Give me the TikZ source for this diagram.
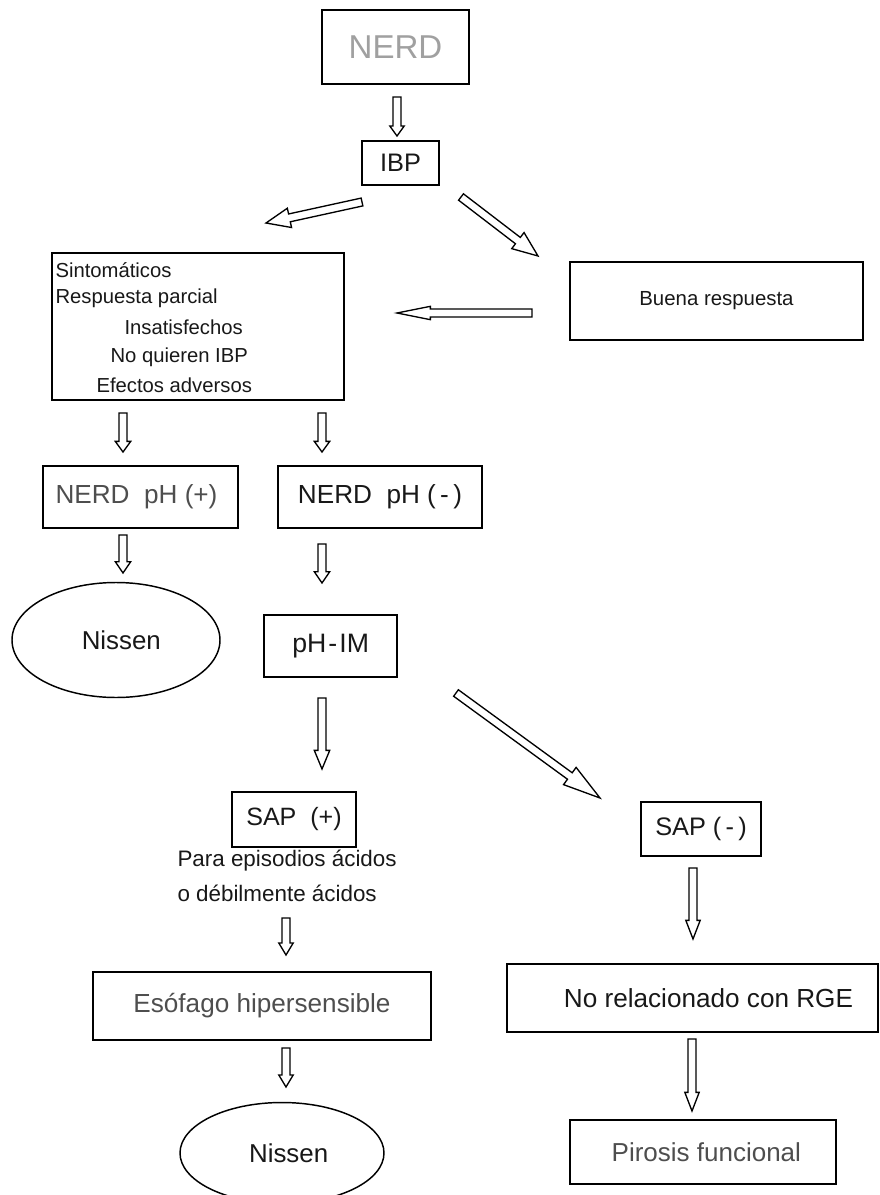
\documentclass[tikz,border=0pt]{standalone}
\usepackage{fontspec}
\setmainfont{Liberation Sans}
\usetikzlibrary{calc,shapes.geometric}

\definecolor{nerdgray}{RGB}{160,160,160}
\definecolor{midgray}{RGB}{78,78,78}
\definecolor{inkgray}{RGB}{24,24,24}

\newcommand{\sz}[1]{\fontsize{#1}{#1}\selectfont}

\tikzset{every picture/.style={line width=0.75pt}}
\tikzset{
	box/.style={draw, rectangle, line width=1.4pt, inner sep=0pt, text=inkgray},
	oval/.style={draw, ellipse, line width=1.1pt, inner sep=0pt, text=inkgray},
	item/.style={anchor=west, inner sep=0pt, text=inkgray, font=\sz{15.2pt}},
	% hollow block arrow: #1 = half width of the head, #2 = length of the head
	hollow/.style 2 args={draw, line width=1pt, line join=miter, to path={
		($(\tikztostart)!3pt!90:(\tikztotarget)$)
		-- ($(\tikztotarget)!#2!(\tikztostart)!3pt!90:(\tikztotarget)$)
		-- ($(\tikztotarget)!#2!(\tikztostart)!#1!90:(\tikztotarget)$)
		-- (\tikztotarget)
		-- ($(\tikztotarget)!#2!(\tikztostart)!#1!-90:(\tikztotarget)$)
		-- ($(\tikztotarget)!#2!(\tikztostart)!3pt!-90:(\tikztotarget)$)
		-- ($(\tikztostart)!3pt!-90:(\tikztotarget)$) -- cycle}},
}

\begin{document}
\begin{tikzpicture}[x=0.75pt,y=0.75pt,yscale=-1,xscale=1]
	\useasboundingbox (0,0) rectangle (880,1195);

	%Boxes
	\node[box, minimum width=110.25pt, minimum height=55.5pt, text=nerdgray, font=\sz{24.8pt}] (nerd) at (395.5,47) {NERD};
	\node[box, minimum width=57.75pt, minimum height=33pt, font=\sz{19pt}] (ibp) at (400.5,163) {IBP};
	\node[box, minimum width=219pt, minimum height=110.25pt] (sintom) at (198,326.5) {};
	\node[box, minimum width=219.75pt, minimum height=58.5pt, font=\sz{15.3pt}] (buena) at (716.5,301) {Buena respuesta};
	\node[box, minimum width=146.25pt, minimum height=46.5pt, text=midgray, font=\sz{19.6pt}] (phpos) at (140.5,497) {\hspace*{-6pt}NERD\ \ pH (+)};
	\node[box, minimum width=153pt, minimum height=46.5pt, font=\sz{19.6pt}] (phneg) at (380,497) {NERD\ \ pH (\,-\,)};
	\node[oval, minimum width=156pt, minimum height=86.25pt, font=\sz{19.4pt}] (nissenA) at (116,640) {\hspace*{8pt}Nissen};
	\node[box, minimum width=100pt, minimum height=47pt, font=\sz{20pt}] (phim) at (330.7,646) {pH\kern1.5pt-\kern1.5pt IM};
	\node[box, minimum width=93pt, minimum height=41.25pt, font=\sz{18.8pt}] (sappos) at (294,819.5) {SAP\ \ (+)};
	\node[box, minimum width=90pt, minimum height=40.5pt, font=\sz{19pt}] (sapneg) at (701,829) {SAP (\,-\,)};
	\node[box, minimum width=253.5pt, minimum height=51pt, text=midgray, font=\sz{19.6pt}] (esof) at (262,1006) {Esófago hipersensible};
	\node[box, minimum width=278.25pt, minimum height=51pt, font=\sz{19.6pt}] (norel) at (692.5,998) {\hspace*{24pt}No relacionado con RGE};
	\node[oval, minimum width=153pt, minimum height=75.75pt, font=\sz{19.4pt}] (nissenB) at (282,1153) {\hspace*{10pt}Nissen};
	\node[box, minimum width=199.5pt, minimum height=48pt, text=midgray, font=\sz{19.5pt}] (pirosis) at (703,1152) {\hspace*{5pt}Pirosis funcional};

	%Text inside the first box
	\node[item] (l1) at (55,270) {Sintomáticos};
	\node[item] (l2) at (55,298) {Respuesta parcial};
	\node[item] (l3) at (124,327) {Insatisfechos};
	\node[item] (l4) at (110,357) {No quieren IBP};
	\node[item] (l5) at (96,385) {Efectos adversos};

	%Text under SAP (+)
	\node[item, font=\sz{16.8pt}] (p1) at (177,861) {Para episodios ácidos};
	\node[item, font=\sz{16.8pt}] (p2) at (177,893) {o débilmente ácidos};

	%Arrow ends
	\coordinate (a1s) at (397,97);    \coordinate (a1e) at (397,136);
	\coordinate (a2s) at (362,202);   \coordinate (a2e) at (266,223);
	\coordinate (a3s) at (461,197);   \coordinate (a3e) at (538,256);
	\coordinate (a4s) at (532,313);   \coordinate (a4e) at (397,313);
	\coordinate (a5s) at (123,413);   \coordinate (a5e) at (123,452);
	\coordinate (a6s) at (322,413);   \coordinate (a6e) at (322,452);
	\coordinate (a7s) at (123,535);   \coordinate (a7e) at (123,573);
	\coordinate (a8s) at (322,544);   \coordinate (a8e) at (322,583);
	\coordinate (a9s) at (322,698);   \coordinate (a9e) at (322,769);
	\coordinate (a10s) at (456,693);  \coordinate (a10e) at (600,798);
	\coordinate (a11s) at (286,918);  \coordinate (a11e) at (286,955);
	\coordinate (a12s) at (286,1048); \coordinate (a12e) at (286,1087);
	\coordinate (a13s) at (693,868);  \coordinate (a13e) at (693,939);
	\coordinate (a14s) at (692,1039); \coordinate (a14e) at (692,1111);

	%Block arrows
	\draw[hollow={5.4pt}{7.5pt}] (a1s) to (a1e);
	\draw[hollow={7.4pt}{18pt}] (a2s) to (a2e);
	\draw[hollow={7.6pt}{19pt}] (a3s) to (a3e);
	\draw[hollow={5pt}{25pt}] (a4s) to (a4e);
	\draw[hollow={5.8pt}{8pt}] (a5s) to (a5e);
	\draw[hollow={5.8pt}{8pt}] (a6s) to (a6e);
	\draw[hollow={5.8pt}{8.5pt}] (a7s) to (a7e);
	\draw[hollow={5.8pt}{8.5pt}] (a8s) to (a8e);
	\draw[hollow={5.8pt}{14pt}] (a9s) to (a9e);
	\draw[hollow={8pt}{28pt}] (a10s) to (a10e);
	\draw[hollow={5.4pt}{9pt}] (a11s) to (a11e);
	\draw[hollow={5.4pt}{9pt}] (a12s) to (a12e);
	\draw[hollow={5.4pt}{14pt}] (a13s) to (a13e);
	\draw[hollow={5.4pt}{14pt}] (a14s) to (a14e);
\end{tikzpicture}
\end{document}
